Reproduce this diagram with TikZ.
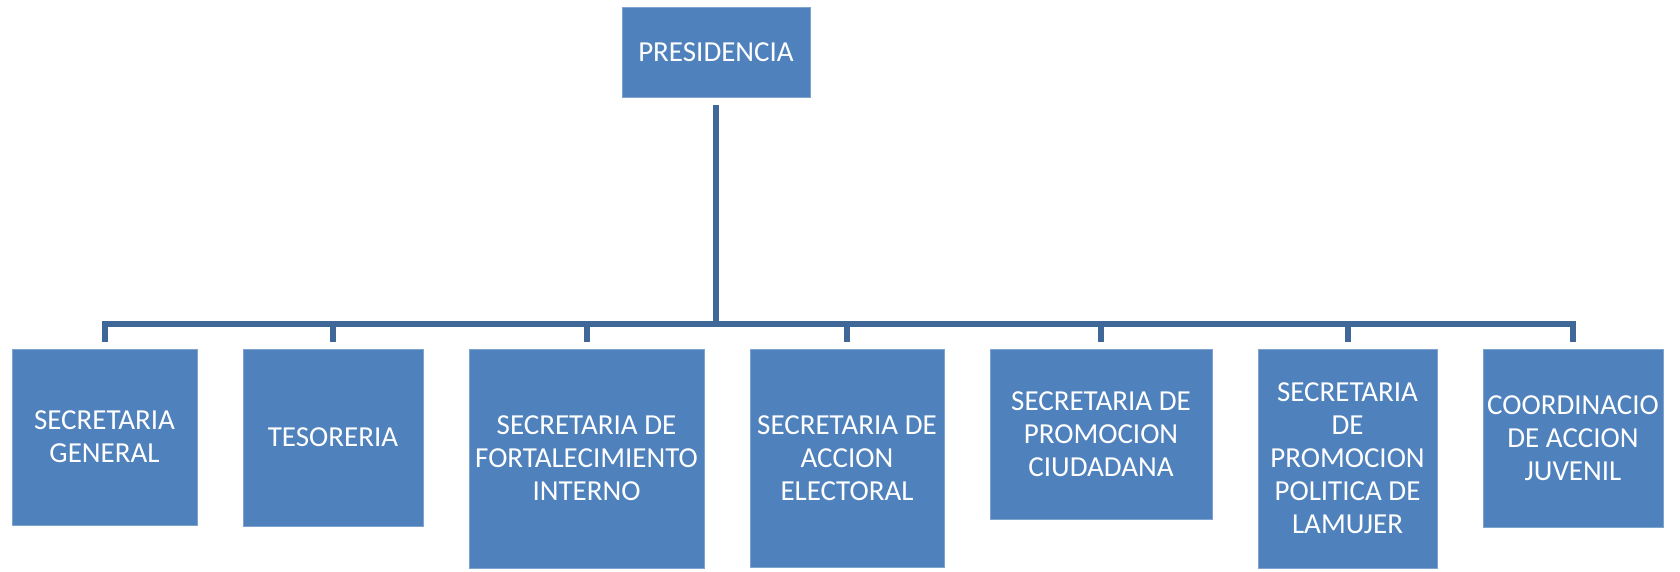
\documentclass[tikz,border=0pt]{standalone}
\usepackage{fontspec}
\setmainfont{Carlito}
\definecolor{boxblue}{HTML}{4F81BD}
\definecolor{boxedge}{HTML}{7EA3CE}
\definecolor{linec}{HTML}{3F6898}
\begin{document}
\begin{tikzpicture}[x=1pt,y=-1pt,
  unit/.style={fill=boxblue, draw=boxedge, line width=0.8pt, text=white, align=center, inner sep=0pt, font=\fontsize{29}{33}\selectfont},
  conn/.style={draw=linec, line width=6pt}]
\useasboundingbox (0,0) rectangle (1680,571);
\fill[white] (0,0) rectangle (1680,571);
\node[unit, minimum width=188, minimum height=90] (p) at (716,52.5) {PRESIDENCIA};
\node[unit, minimum width=185, minimum height=176] (b1) at (104.5,437) {SECRETARIA\\GENERAL};
\node[unit, minimum width=180, minimum height=177] (b2) at (333,437.5) {TESORERIA};
\node[unit, minimum width=235, minimum height=219] (b3) at (586.5,458.5) {SECRETARIA DE\\FORTALECIMIENTO\\INTERNO};
\node[unit, minimum width=194, minimum height=218] (b4) at (847,458) {SECRETARIA DE\\ACCION\\ELECTORAL};
\node[unit, minimum width=222, minimum height=170] (b5) at (1101,434) {SECRETARIA DE\\PROMOCION\\CIUDADANA};
\node[unit, minimum width=179, minimum height=219] (b6) at (1347.5,458.5) {SECRETARIA\\DE\\PROMOCION\\POLITICA DE\\LAMUJER};
\node[unit, minimum width=180, minimum height=178] (b7) at (1573,438) {COORDINACIO\\DE ACCION\\JUVENIL};
\coordinate (bus) at (0,323.5);
\draw[conn] ([yshift=-7pt]p.south) -- (p.south |- bus);
\draw[conn, line join=miter] ([yshift=7pt]b1.north) -- (b1.north |- bus) -- (b7.north |- bus) -- ([yshift=7pt]b7.north);
\draw[conn] ([yshift=7pt]b2.north) -- (b2.north |- bus);
\draw[conn] ([yshift=7pt]b3.north) -- (b3.north |- bus);
\draw[conn] ([yshift=7pt]b4.north) -- (b4.north |- bus);
\draw[conn] ([yshift=7pt]b5.north) -- (b5.north |- bus);
\draw[conn] ([yshift=7pt]b6.north) -- (b6.north |- bus);
\end{tikzpicture}
\end{document}
